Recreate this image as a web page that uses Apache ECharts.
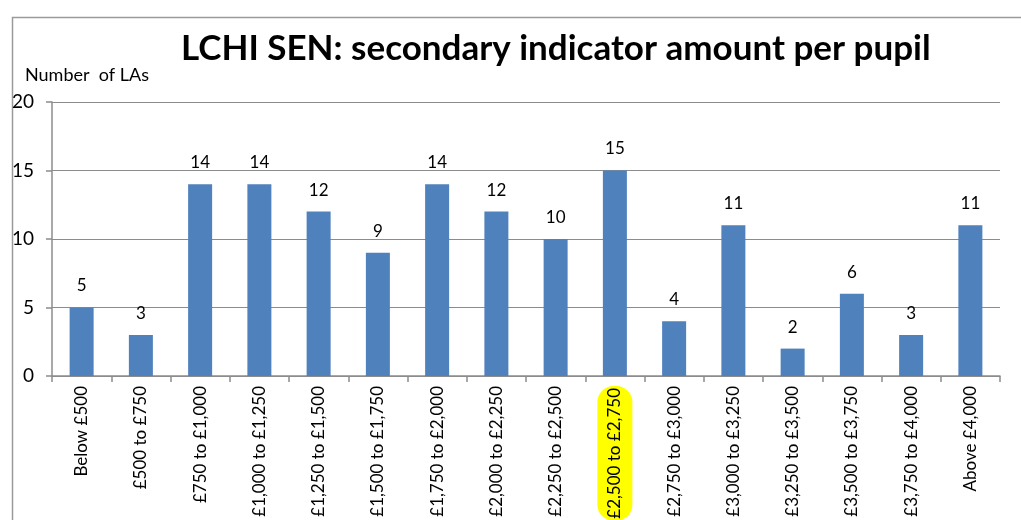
<!DOCTYPE html>
<html>
<head>
<meta charset="utf-8">
<script src="https://cdn.jsdelivr.net/npm/echarts@6/dist/echarts.min.js"></script>
<style>
  html, body { margin: 0; padding: 0; background: #fff; }
  #chart { width: 1021px; height: 520px; }
</style>
</head>
<body>
<div id="chart"></div>
<script>
// bands of secondary indicator amount per pupil
var categories = ['Below £500', '£500 to £750', '£750 to £1,000', '£1,000 to £1,250',
    '£1,250 to £1,500', '£1,500 to £1,750', '£1,750 to £2,000', '£2,000 to £2,250',
    '£2,250 to £2,500', '£2,500 to £2,750', '£2,750 to £3,000', '£3,000 to £3,250',
    '£3,250 to £3,500', '£3,500 to £3,750', '£3,750 to £4,000', 'Above £4,000'];
// number of LAs in each band
var laCounts = [5, 3, 14, 14, 12, 9, 14, 12, 10, 15, 4, 11, 2, 6, 3, 11];
var yTicks = [0, 5, 10, 15, 20];
var highlighted = '£2,500 to £2,750';

var font = 'Lato, "Open Sans", sans-serif';
var gridGrey = '#8c8c8c';

var option = {
    backgroundColor: '#ffffff',
    animation: false,
    title: {
        text: 'LCHI SEN: secondary indicator amount per pupil',
        left: 176,
        top: 26,
        textStyle: { fontFamily: font, fontWeight: 'bold', fontSize: 35, color: '#000' }
    },
    graphic: [
        // outer chart frame
        { type: 'rect', left: 10, top: 15, shape: { width: 1100, height: 600 },
          style: { fill: 'none', stroke: '#9a9a9a', lineWidth: 1.5 }, silent: true },
        { type: 'text', left: 25, top: 66,
          style: { text: 'Number  of LAs', fontFamily: font, fontSize: 18, fill: '#000' } }
    ],
    grid: { left: 52, right: 21, top: 102, bottom: 144, outerBoundsMode: 'none', containLabel: false },
    xAxis: {
        type: 'category',
        data: categories,
        axisLine: { lineStyle: { color: gridGrey, width: 1.5 } },
        axisTick: { show: true, length: 6, lineStyle: { color: gridGrey, width: 1.5 } },
        axisLabel: {
            rotate: 90,
            interval: 0,
            margin: 10,
            fontFamily: font,
            fontSize: 17,
            color: '#000',
            formatter: function (v) {
                return v === highlighted ? '{hl|' + v + '}' : v;
            },
            rich: {
                hl: { backgroundColor: '#ffff00', borderRadius: 16, padding: [9, 2, 9, 2],
                      fontFamily: font, fontSize: 17, color: '#000' }
            }
        }
    },
    yAxis: {
        type: 'value',
        min: yTicks[0],
        max: yTicks[yTicks.length - 1],
        interval: 5,
        axisLine: { show: true, lineStyle: { color: gridGrey, width: 1.5 } },
        axisTick: { show: true, length: 6, lineStyle: { color: gridGrey, width: 1.5 } },
        axisLabel: { margin: 18, fontFamily: font, fontSize: 19, color: '#000' },
        splitLine: { lineStyle: { color: gridGrey, width: 1.2 } }
    },
    series: [{
        type: 'bar',
        data: laCounts,
        barWidth: 24,
        itemStyle: { color: '#4f81bd' },
        label: {
            show: true,
            position: 'top',
            distance: 13,
            fontFamily: font,
            fontSize: 17,
            color: '#000'
        }
    }]
};

var myChart = echarts.init(document.getElementById('chart'));
myChart.setOption(option);
</script>
</body>
</html>
